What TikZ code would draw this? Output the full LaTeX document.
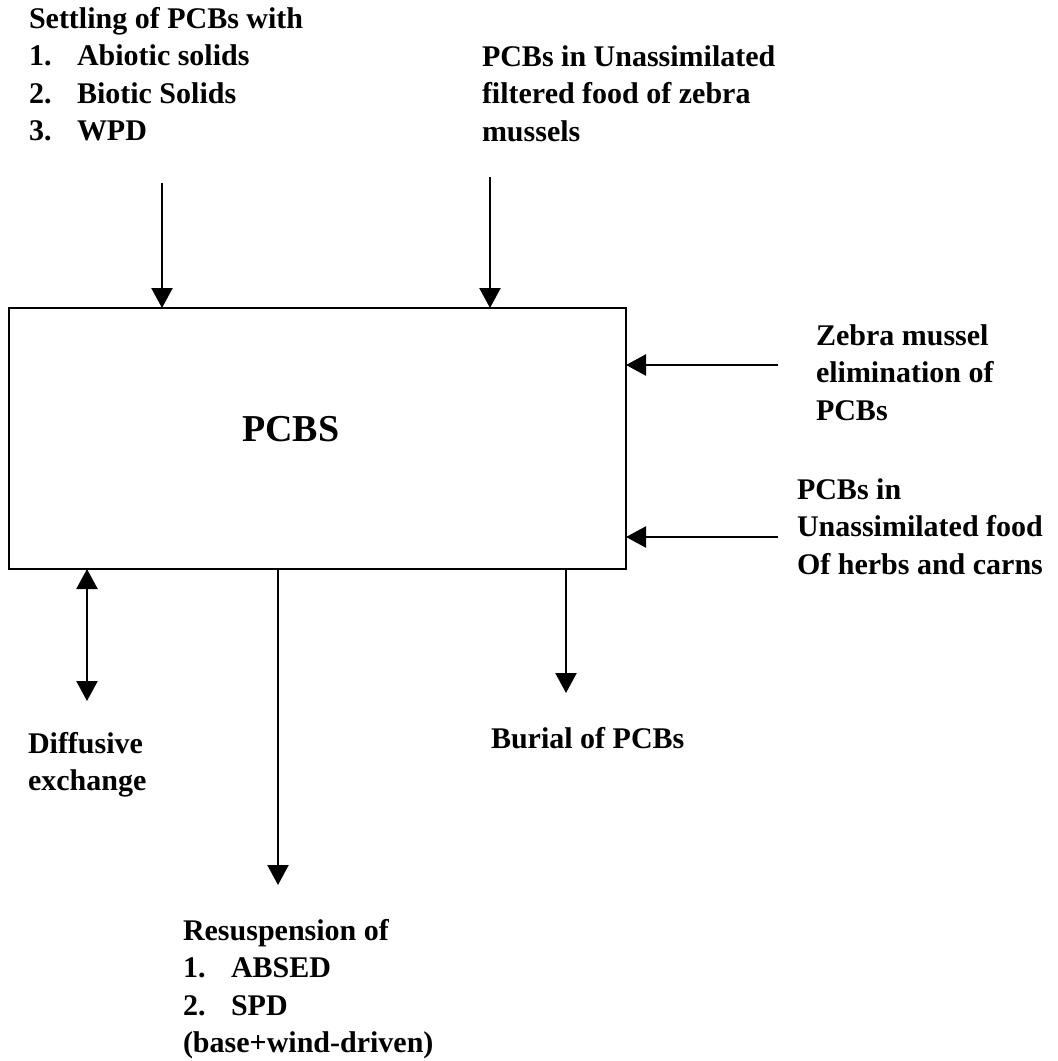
\documentclass[tikz,border=0pt]{standalone}
\usepackage{fontspec}
\setmainfont{Liberation Serif}
\usetikzlibrary{arrows.meta}
\begin{document}
\begin{tikzpicture}[x=1pt,y=-1pt,
  lbl/.style={inner sep=0pt, outer sep=0pt, anchor=base west,
    font=\fontsize{30}{37.5}\selectfont\bfseries},
  big/.style={inner sep=0pt, outer sep=0pt, anchor=base west,
    font=\fontsize{38}{46}\selectfont\bfseries},
  arr/.style={line width=2.3pt, -{Triangle[width=21pt,length=20pt]}},
  dbl/.style={line width=2.3pt, {Triangle[width=21pt,length=20pt]}-{Triangle[width=21pt,length=20pt]}}]
\useasboundingbox (0,0) rectangle (1058,1061);
\newcommand{\itm}[2]{\makebox[48pt][l]{#1}#2}

% main box
\node[draw, line width=2.3pt, inner sep=0pt, outer sep=0pt,
      minimum width=617pt, minimum height=261pt, anchor=north west] (box) at (9,308) {};
\node[big] (pcbs) at (242,441) {PCBS};

% labels
\node[lbl] (settle) at (29,28) {\begin{tabular}[t]{@{}l@{}}Settling of PCBs with\\
  \itm{1.}{Abiotic solids}\\ \itm{2.}{Biotic Solids}\\ \itm{3.}{WPD}\end{tabular}};
\node[lbl] (unass) at (482,66) {\begin{tabular}[t]{@{}l@{}}PCBs in Unassimilated\\
  filtered food of zebra\\ mussels\end{tabular}};
\node[lbl] (zebra) at (816,345) {\begin{tabular}[t]{@{}l@{}}Zebra mussel\\
  elimination of\\ PCBs\end{tabular}};
\node[lbl] (herbs) at (797,499) {\begin{tabular}[t]{@{}l@{}}PCBs in\\
  Unassimilated food\\ Of herbs and carns\end{tabular}};
\node[lbl] (diff) at (28,753) {\begin{tabular}[t]{@{}l@{}}Diffusive\\ exchange\end{tabular}};
\node[lbl] (burial) at (491,748) {Burial of PCBs};
\node[lbl] (resus) at (183,940) {\begin{tabular}[t]{@{}l@{}}Resuspension of\\
  \itm{1.}{ABSED}\\ \itm{2.}{SPD}\\ (base+wind-driven)\end{tabular}};

% connector ends
\coordinate (a1) at (162,183);
\coordinate (a2) at (490,177);
\coordinate (a3) at (778,365);
\coordinate (a4) at (778,537);
\coordinate (b1) at (87,701);
\coordinate (b2) at (278,885);
\coordinate (b3) at (566,693);

\draw[arr] (a1) -- (a1 |- box.north);
\draw[arr] (a2) -- (a2 |- box.north);
\draw[arr] (a3) -- (a3 -| box.east);
\draw[arr] (a4) -- (a4 -| box.east);
\draw[dbl] (b1 |- box.south) -- (b1);
\draw[arr] (b2 |- box.south) -- (b2);
\draw[arr] (b3 |- box.south) -- (b3);
\end{tikzpicture}
\end{document}
